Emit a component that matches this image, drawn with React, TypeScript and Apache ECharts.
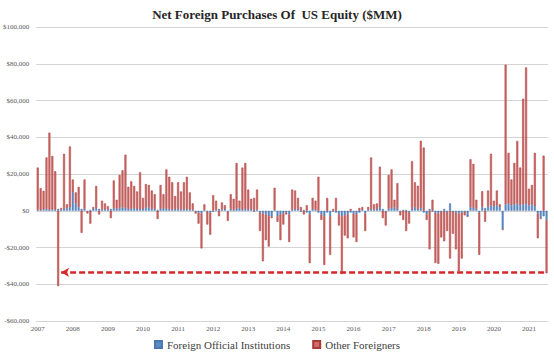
import React, { useEffect, useRef } from "react";
import * as echarts from "echarts";

const years = ["2007","2008","2009","2010","2011","2012","2013","2014","2015","2016","2017","2018","2019","2020","2021"];
const monthCodes = ["01","02","03","04","05","06","07","08","09","10","11","12"];

// Other Foreigners, $MM, one array per year
const other2007 = [23000, 12000, 10000, 28000, 42000, 29000, 21000, -41000, 1000, 30000, 2000, 33000];
const other2008 = [7000, 6000, 11000, -12000, 16000, -1000, -7000, 1000, 12000, -2000, 5000, 3000];
const other2009 = [2000, -4000, 15000, 5000, 18000, 20000, 29000, 12000, 15000, 12000, 9500, 20000];
const other2010 = [6000, 13000, 12000, 10000, 8000, -4500, 13000, 7500, 21500, 17500, 15000, 7000];
const other2011 = [14500, 10000, 14500, 17500, 9500, 3500, -1000, -6000, -19000, 3000, -7000, -12000];
const other2012 = [8500, 5000, -3000, 4000, 2000, -5000, 8000, 6000, 25000, 4000, 23000, 25000];
const other2013 = [11000, 5500, 7000, 11000, -10000, -26000, -14000, -16500, -1000, 12000, -3000, -14000];
const other2014 = [-6000, -1000, -15000, 11000, 10000, 6000, 2000, -2000, 3000, -26500, 6000, 5000];
const other2015 = [18500, -3000, -26500, 7000, -21000, 1000, 7000, -6000, -31500, -11000, -13000, 1000];
const other2016 = [-13000, -15000, 1500, 1500, -9500, 1500, 28000, 3000, 3000, 22000, -4000, -7500];
const other2017 = [18500, 21000, 4000, 14000, -2000, -5000, -11000, -6000, 26000, 13500, 12600, 36600];
const other2018 = [34400, -3000, -21000, 6000, -27400, -27400, -14000, -16600, -10000, -26000, -12000, -20000];
const other2019 = [-31500, -25000, -2000, 0, 26000, 24000, 5000, -23000, 8600, -6000, 9000, 28000];
const other2020 = [3000, 8000, 1500, -500, 76000, 27500, 14000, 22500, 34000, 20500, 57500, 74000];
const other2021 = [9000, 10500, 29000, -13500, -500, 30000, -29000];

// Foreign Official Institutions, $MM
const official2007 = [500, 300, 800, 1000, 500, 800, 500, 1000, 500, 1000, 1500, 2000];
const official2008 = [10000, 4000, 2000, 1000, 1000, -500, 500, 1000, 1500, 1000, 500, 1000];
const official2009 = [500, 1000, 1500, 1000, 1500, 2000, 1500, 1000, 1000, 1500, 1000, 1000];
const official2010 = [1000, 1500, 2000, 1000, 1000, 500, 1000, 1500, 1000, 1000, 500, 1000];
const official2011 = [1000, 500, 1000, 1000, 500, 500, -500, -1000, -1500, 500, -500, -1000];
const official2012 = [-500, 500, 1000, 500, 1000, -500, 1000, 500, 1000, 1500, 500, 1000];
const official2013 = [500, 1000, -500, 500, -1000, -1500, -2000, -3000, -3000, 500, -3000, -2000];
const official2014 = [-1500, -1000, -2000, 500, 1000, 1000, -500, 500, -1000, -2000, 1000, 500];
const official2015 = [-1000, -2000, -3000, -1000, -3000, -500, -1000, -2000, -3000, -2500, -2000, -1000];
const official2016 = [-1500, -2000, -1000, 500, -1500, 500, 1000, 500, 1000, 2000, 1000, -500];
const official2017 = [1000, 1500, 2000, 1000, -500, 500, 500, -1000, 1000, 2000, 1000, 1500];
const official2018 = [-1000, -2000, 1000, -500, -1000, -1500, -500, 1000, -1000, 4000, -500, -1000];
const official2019 = [-1500, -1000, -500, -3000, 2000, 1500, 1000, -1000, 2000, 1500, 2000, 3000];
const official2020 = [2500, 3000, 2000, -10000, 3500, 4000, 3000, 3500, 4000, 3000, 3500, 4000];
const official2021 = [3000, 3500, 2500, -1500, -4000, -3000, -5000];

const otherByYear = [other2007, other2008, other2009, other2010, other2011, other2012, other2013, other2014, other2015, other2016, other2017, other2018, other2019, other2020, other2021];
const officialByYear = [official2007, official2008, official2009, official2010, official2011, official2012, official2013, official2014, official2015, official2016, official2017, official2018, official2019, official2020, official2021];

const yTicks = { min: -60000, max: 100000, interval: 20000 };
const referenceLevel = -33500;
const referenceStart = "2007-09";

export default function App() {
  const ref = useRef<HTMLDivElement>(null);
  useEffect(() => {
    document.body.style.margin = "0";
    if (!ref.current) return;
    const chart = echarts.init(ref.current, undefined, { renderer: "svg" });

    const categories: string[] = [];
    otherByYear.forEach((arr, yi) => {
      arr.forEach((_, mi) => categories.push(years[yi] + "-" + monthCodes[mi]));
    });
    const otherData = ([] as number[]).concat(...otherByYear);
    const officialData = ([] as number[]).concat(...officialByYear);
    const lastCat = categories[categories.length - 1];

    const serif = "'Liberation Serif', 'Times New Roman', serif";

    chart.setOption({
      animation: false,
      backgroundColor: "#ffffff",
      title: {
        text: "Net Foreign Purchases Of  US Equity ($MM)",
        left: "center",
        top: 3,
        textStyle: { fontFamily: serif, fontSize: 13, fontWeight: "bold", color: "#262626" },
      },
      legend: {
        bottom: 3,
        left: "center",
        icon: "rect",
        itemWidth: 7,
        itemHeight: 7,
        itemGap: 22,
        textStyle: { fontFamily: serif, fontSize: 11, color: "#404040" },
        data: ["Foreign Official Institutions", "Other Foreigners"],
      },
      grid: { left: 36, right: 6, top: 27, bottom: 37 },
      xAxis: {
        type: "category",
        data: categories,
        boundaryGap: true,
        axisLine: { show: false },
        axisTick: { show: false },
        axisLabel: {
          interval: (index: number) => index % 12 === 0,
          formatter: (v: string) => v.slice(0, 4),
          fontFamily: serif,
          fontSize: 7,
          color: "#595959",
          margin: 4,
        },
      },
      yAxis: {
        type: "value",
        min: yTicks.min,
        max: yTicks.max,
        interval: yTicks.interval,
        axisLine: { show: false },
        axisTick: { show: false },
        splitLine: { lineStyle: { color: "#d4d4d4", width: 1 } },
        axisLabel: {
          fontFamily: serif,
          fontSize: 7,
          color: "#595959",
          margin: 7,
          formatter: (v: number) => (v < 0 ? "-" : "") + "$" + Math.abs(v).toLocaleString("en-US"),
        },
      },
      series: [
        {
          name: "Foreign Official Institutions",
          type: "bar",
          stack: "total",
          data: officialData,
          barWidth: 2,
          itemStyle: { color: "#5b8ac4", borderColor: "#4a76b0", borderWidth: 0.4 },
        },
        {
          name: "Other Foreigners",
          type: "bar",
          stack: "total",
          data: otherData,
          barWidth: 2,
          itemStyle: { color: "#cf6a68", borderColor: "#a83a38", borderWidth: 0.5 },
          markLine: {
            silent: true,
            symbol: ["arrow", "none"],
            symbolSize: [7, 8],
            label: { show: false },
            lineStyle: { color: "#d42a2a", type: [6, 3], width: 2.5 },
            data: [[{ coord: [referenceStart, referenceLevel] }, { coord: [lastCat, referenceLevel] }]],
          },
        },
      ],
    });
    return () => chart.dispose();
  }, []);
  return <div ref={ref} style={{ position: "fixed", left: 0, top: 0, width: 554, height: 358 }} />;
}
